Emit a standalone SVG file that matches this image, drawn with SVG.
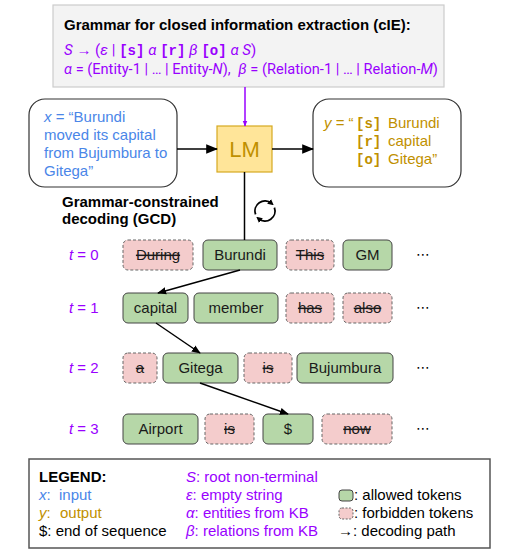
<svg xmlns="http://www.w3.org/2000/svg" width="511" height="551" viewBox="0 0 511 551">
<defs>
<style>
text{font-family:"Liberation Sans",Arial,sans-serif;font-size:15px}
.b{font-weight:bold;fill:#000}
.pur{fill:#9900ff}
.blue{fill:#4a86e8}
.gold{fill:#bf9000}
.blk{fill:#000}
.it{font-style:italic}
.mono{font-family:"Liberation Mono","Courier New",monospace;font-weight:bold;font-size:14px}
.rob{font-family:Roboto,"Liberation Sans",sans-serif}
.ok rect{fill:#b6d7a8;stroke:#444;stroke-width:1}
.no rect{fill:#f4cccc;stroke:#666;stroke-width:1;stroke-dasharray:3 2}
.ok text,.no text{fill:#1a1a1a;text-anchor:middle}
.no text{text-decoration:line-through}
.box{fill:#fff;stroke:#333;stroke-width:1.2}
.edge{stroke:#000;stroke-width:1.5;fill:none}
.dots{font-family:"DejaVu Sans",sans-serif;fill:#000;font-size:14px}
</style>
<marker id="ah" viewBox="0 0 10 10" refX="9" refY="5" markerWidth="9" markerHeight="9" markerUnits="userSpaceOnUse" orient="auto"><path d="M0,1 L10,5 L0,9 Z" fill="#000"/></marker>
<marker id="ahb" viewBox="0 0 10 10" refX="9" refY="5" markerWidth="12" markerHeight="12" markerUnits="userSpaceOnUse" orient="auto"><path d="M0,1 L10,5 L0,9 Z" fill="#000"/></marker>
<marker id="ahp" viewBox="0 0 10 10" refX="9" refY="5" markerWidth="6" markerHeight="6" markerUnits="userSpaceOnUse" orient="auto"><path d="M0,1 L10,5 L0,9 Z" fill="#9900ff"/></marker>
<marker id="ahs" viewBox="0 0 10 10" refX="5" refY="5" markerWidth="6" markerHeight="6" markerUnits="userSpaceOnUse" orient="auto"><path d="M0,0 L10,5 L0,10 Z" fill="#000"/></marker>
</defs>
<rect width="511" height="551" fill="#fff"/>

<g id="grammar">
<rect x="53" y="5" width="391" height="82" fill="#f3f3f3" stroke="#cccccc" stroke-width="1.2"/>
<text x="64" y="30" class="b">Grammar for closed information extraction (cIE):</text>
<text x="64" y="55" class="pur rob"><tspan class="it">S</tspan> → (<tspan class="it">ε</tspan> | <tspan class="mono">[s]</tspan> <tspan class="it">α</tspan> <tspan class="mono">[r]</tspan> <tspan class="it">β</tspan> <tspan class="mono">[o]</tspan> <tspan class="it">α S</tspan>)</text>
<text x="64" y="74" class="pur rob" style="font-size:14.6px"><tspan class="it">α</tspan> = (Entity-1 | … | Entity-<tspan class="it">N</tspan>),<tspan dx="4">  </tspan><tspan class="it">β</tspan> = (Relation-1 | … | Relation-<tspan class="it">M</tspan>)</text>
</g>

<g id="input">
<rect x="29" y="99" width="148" height="88" rx="16" class="box"/>
<text class="blue"><tspan x="44" y="122"><tspan class="it">x</tspan> = “Burundi</tspan><tspan x="44" y="140">moved its capital</tspan><tspan x="44" y="158">from Bujumbura to</tspan><tspan x="44" y="176">Gitega”</tspan></text>
</g>

<g id="lm">
<rect x="217" y="126" width="55" height="46" fill="#ffe599" stroke="#d6a920" stroke-width="1.2"/>
<text x="244.5" y="157" text-anchor="middle" class="gold" style="font-size:22px">LM</text>
</g>

<g id="output">
<rect x="313" y="99" width="148" height="88" rx="16" class="box"/>
<text class="gold"><tspan x="324" y="128"><tspan class="it">y</tspan> = “</tspan><tspan x="356" y="128" class="mono">[s]</tspan><tspan x="388" y="128">Burundi</tspan><tspan x="356" y="146" class="mono">[r]</tspan><tspan x="388" y="146">capital</tspan><tspan x="356" y="164" class="mono">[o]</tspan><tspan x="388" y="164">Gitega”</tspan></text>
</g>

<g id="gcd-label">
<text class="b"><tspan x="62" y="207">Grammar-constrained</tspan><tspan x="62" y="224">decoding (GCD)</tspan></text>
</g>

<g id="cycle" fill="none" stroke="#000" stroke-width="1.8">
<path d="M255.6,214.4 A10,10 0 0 1 271.4,203.3" marker-end="url(#ahs)"/>
<path d="M274.4,207.6 A10,10 0 0 1 258.6,218.7" marker-end="url(#ahs)"/>
</g>

<g id="t-labels" class="pur">
<text x="69" y="260"><tspan class="it">t</tspan> = 0</text>
<text x="69" y="313"><tspan class="it">t</tspan> = 1</text>
<text x="69" y="373"><tspan class="it">t</tspan> = 2</text>
<text x="69" y="434"><tspan class="it">t</tspan> = 3</text>
</g>

<g id="row0">
<g id="tok-during" class="no"><rect x="123" y="240" width="70" height="30" rx="5"/><text x="158" y="260">During</text></g>
<g id="tok-burundi" class="ok"><rect x="203" y="240" width="74" height="30" rx="5"/><text x="240" y="260">Burundi</text></g>
<g id="tok-this" class="no"><rect x="286" y="240" width="48" height="30" rx="5"/><text x="310" y="260">This</text></g>
<g id="tok-gm" class="ok"><rect x="343" y="240" width="49" height="30" rx="5"/><text x="367.5" y="260">GM</text></g>
<text x="423" y="259" class="dots" text-anchor="middle">⋯</text>
</g>

<g id="row1">
<g id="tok-capital" class="ok"><rect x="123" y="293" width="65" height="30" rx="5"/><text x="155.5" y="313">capital</text></g>
<g id="tok-member" class="ok"><rect x="194" y="293" width="84" height="30" rx="5"/><text x="236" y="313">member</text></g>
<g id="tok-has" class="no"><rect x="286" y="293" width="48" height="30" rx="5"/><text x="310" y="313">has</text></g>
<g id="tok-also" class="no"><rect x="343" y="293" width="49" height="30" rx="5"/><text x="367.5" y="313">also</text></g>
<text x="423" y="312" class="dots" text-anchor="middle">⋯</text>
</g>

<g id="row2">
<g id="tok-a" class="no"><rect x="123" y="353" width="34" height="30" rx="5"/><text x="140" y="373">a</text></g>
<g id="tok-gitega" class="ok"><rect x="163" y="353" width="75" height="30" rx="5"/><text x="200.5" y="373">Gitega</text></g>
<g id="tok-is2" class="no"><rect x="244" y="353" width="48" height="30" rx="5"/><text x="268" y="373">is</text></g>
<g id="tok-bujumbura" class="ok"><rect x="297" y="353" width="96" height="30" rx="5"/><text x="345" y="373">Bujumbura</text></g>
<text x="423" y="372" class="dots" text-anchor="middle">⋯</text>
</g>

<g id="row3">
<g id="tok-airport" class="ok"><rect x="123" y="414" width="75" height="30" rx="5"/><text x="160.5" y="434">Airport</text></g>
<g id="tok-is3" class="no"><rect x="205" y="414" width="49" height="30" rx="5"/><text x="229.5" y="434">is</text></g>
<g id="tok-eos" class="ok"><rect x="263" y="414" width="50" height="30" rx="5"/><text x="288" y="434">$</text></g>
<g id="tok-now" class="no"><rect x="322" y="414" width="70" height="30" rx="5"/><text x="357" y="434">now</text></g>
<text x="423" y="433" class="dots" text-anchor="middle">⋯</text>
</g>

<g id="connectors">
<line x1="245" y1="87" x2="245" y2="126" stroke="#9900ff" stroke-width="1.5" marker-end="url(#ahp)"/>
<line x1="177" y1="149" x2="217" y2="149" class="edge" marker-end="url(#ahb)"/>
<line x1="272" y1="149" x2="313" y2="149" class="edge" marker-end="url(#ahb)"/>
<line x1="244.5" y1="172" x2="244.5" y2="240" class="edge"/>
<line x1="240" y1="270" x2="158" y2="293" class="edge" marker-end="url(#ah)"/>
<line x1="156" y1="323" x2="200" y2="353" class="edge" marker-end="url(#ah)"/>
<line x1="200" y1="383" x2="288" y2="414" class="edge" marker-end="url(#ah)"/>
</g>

<g id="legend">
<rect x="29" y="459" width="461" height="89" fill="#fff" stroke="#555" stroke-width="1.5"/>
<text x="39" y="482" class="b">LEGEND:</text>
<text x="39" y="500" class="blue"><tspan class="it">x</tspan>:</text><text x="59" y="500" class="blue">input</text>
<text x="39" y="518" class="gold"><tspan class="it">y</tspan>:</text><text x="60" y="518" class="gold">output</text>
<text x="39" y="536" class="blk">$: end of sequence</text>
<text x="186" y="482" class="pur"><tspan class="it">S</tspan>: root non-terminal</text>
<text x="186" y="500" class="pur"><tspan class="it">ε</tspan>: empty string</text>
<text x="186" y="518" class="pur"><tspan class="it">α</tspan>: entities from KB</text>
<text x="186" y="536" class="pur"><tspan class="it">β</tspan>: relations from KB</text>
<rect x="339" y="490" width="14" height="11" rx="3" fill="#b6d7a8" stroke="#444" stroke-width="1"/>
<text x="354" y="500" class="blk">: allowed tokens</text>
<rect x="339" y="508" width="14" height="11" rx="3" fill="#f4cccc" stroke="#666" stroke-width="1" stroke-dasharray="2 1.5"/>
<text x="354" y="518" class="blk">: forbidden tokens</text>
<text x="338" y="536" class="blk">→: decoding path</text>
</g>
</svg>
